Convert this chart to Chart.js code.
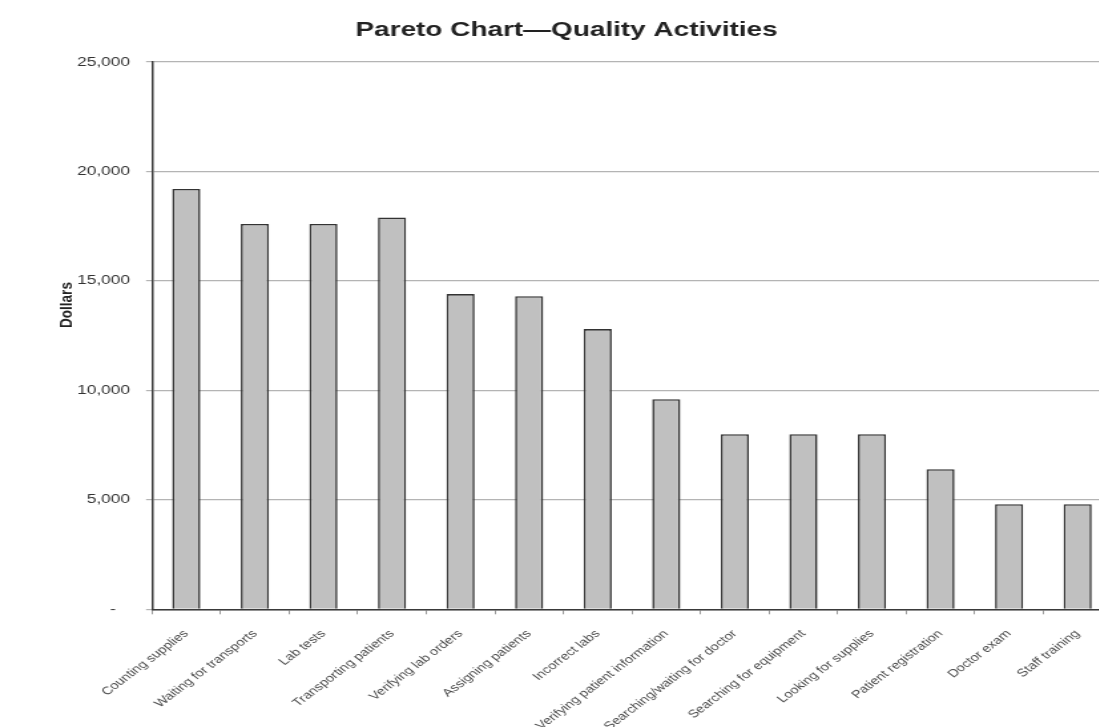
<!DOCTYPE html>
<html>
<head>
<meta charset="utf-8">
<title>Pareto Chart—Quality Activities</title>
<script src="https://cdn.jsdelivr.net/npm/chart.js@4.4.1/dist/chart.umd.min.js"></script>
<style>
  html, body { margin: 0; padding: 0; background: #ffffff; overflow: hidden; }
  /* the chart is laid out narrow and widened horizontally */
  #wrap {
    position: relative;
    width: 860px;
    height: 727px;
    transform: scaleX(1.33);
    transform-origin: 0 0;
  }
</style>
</head>
<body>
<div id="wrap"><canvas id="pareto"></canvas></div>
<script>
// Activity categories, ordered as plotted
const categories = [
  'Counting supplies',
  'Waiting for transports',
  'Lab tests',
  'Transporting patients',
  'Verifying lab orders',
  'Assigning patients',
  'Incorrect labs',
  'Verifying patient information',
  'Searching/waiting for doctor',
  'Searching for equipment',
  'Looking for supplies',
  'Patient registration',
  'Doctor exam',
  'Staff training'
];

// Cost of each activity, in dollars
const dollars = [19200, 17600, 17600, 17900, 14400, 14300, 12800, 9600, 8000, 8000, 8000, 6400, 4800, 4800];

// Value axis ticks and their labels (accounting style: zero shown as a dash)
const yTickValues = [0, 5000, 10000, 15000, 20000, 25000];
const yTickLabels = ['-   ', '5,000', '10,000', '15,000', '20,000', '25,000'];

const chartTitle = 'Pareto Chart\u2014Quality Activities';
const yAxisTitle = 'Dollars';

const FONT = "'Liberation Sans', Arial, Helvetica, sans-serif";

// Draws the chart heading and the rotated value-axis caption
const captions = {
  id: 'captions',
  afterDraw(chart) {
    const ctx = chart.ctx;
    ctx.save();
    ctx.fillStyle = '#222222';
    ctx.textAlign = 'center';
    ctx.textBaseline = 'middle';
    ctx.font = 'bold 21px ' + FONT;
    ctx.fillText(chartTitle, 426, 30);

    ctx.translate(50, 305);
    ctx.rotate(-Math.PI / 2);
    ctx.font = 'bold 13.5px ' + FONT;
    ctx.fillText(yAxisTitle, 0, 0);
    ctx.restore();
  }
};

new Chart(document.getElementById('pareto'), {
  type: 'bar',
  data: {
    labels: categories,
    datasets: [{
      label: 'Dollars',
      data: dollars,
      backgroundColor: '#c0c0c0',
      borderColor: '#333333',
      borderWidth: 1.6,
      barPercentage: 0.41,
      categoryPercentage: 1.0
    }]
  },
  options: {
    responsive: true,
    maintainAspectRatio: false,
    animation: false,
    layout: { padding: { top: 62, right: 24, left: 0, bottom: 0 } },
    plugins: {
      legend: { display: false },
      tooltip: { enabled: false },
      title: { display: false }
    },
    scales: {
      x: {
        offset: true,
        grid: {
          display: true,
          offset: true,
          drawOnChartArea: false,
          drawTicks: true,
          tickLength: 5,
          color: '#9a9a9a',
          lineWidth: 1
        },
        border: { display: true, color: '#3a3a3a', width: 1.5 },
        ticks: {
          autoSkip: false,
          minRotation: 45,
          maxRotation: 45,
          padding: 13,
          color: '#4a4a4a',
          font: { family: FONT, size: 11 }
        },
        afterFit(scale) { scale.height = 117.7; }
      },
      y: {
        min: 0,
        max: 25000,
        afterBuildTicks(scale) {
          scale.ticks = yTickValues.map(v => ({ value: v }));
        },
        grid: {
          color: '#b4b4b4',
          lineWidth: 1.2,
          drawTicks: true,
          tickLength: 4.5
        },
        border: { display: true, color: '#3a3a3a', width: 1.5 },
        ticks: {
          padding: 12,
          color: '#333333',
          font: { family: FONT, size: 13 },
          callback(value) {
            const i = yTickValues.indexOf(value);
            return i >= 0 ? yTickLabels[i] : '';
          }
        },
        afterFit(scale) { scale.width = 114.3; }
      }
    }
  },
  plugins: [captions]
});
</script>
</body>
</html>
